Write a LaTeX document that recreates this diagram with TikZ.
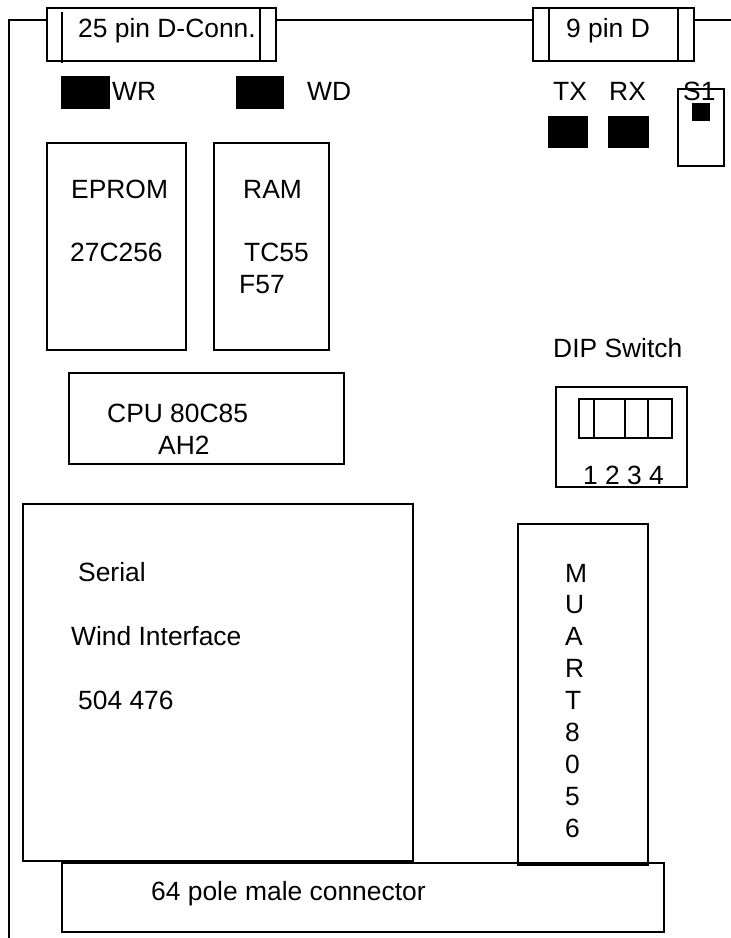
\documentclass[tikz,border=0pt]{standalone}
\usepackage{fontspec}
\setmainfont{Liberation Sans}
\usetikzlibrary{positioning}
\tikzset{
  boardline/.style={draw=black,line width=2.6pt},
  chipbox/.style={boardline,inner sep=0pt,outer sep=0pt,anchor=north west},
  ledblock/.style={fill=black,inner sep=0pt,outer sep=0pt,anchor=north west},
  boardtext/.style={inner sep=0pt,anchor=base west,font=\fontsize{26.4}{32}\selectfont},
}

\begin{document}
\begin{tikzpicture}[x=1pt,y=-1pt]
  \useasboundingbox (0,0) rectangle (731,938);

  % connectors along the top edge
  \node[chipbox,minimum width=229pt,minimum height=53pt] (conn25) at (47,8) {};
  \node[chipbox,minimum width=161pt,minimum height=53pt] (conn9) at (533,8) {};
  \coordinate (edgeL) at (9,938);
  \coordinate (edgeR) at (731,20);
  \draw[boardline] (conn25.west |- 0,20) -| (edgeL);
  \draw[boardline] (conn25.east |- 0,20) -- (conn9.west |- 0,20);
  \draw[boardline] (conn9.east |- 0,20) -- (edgeR);
  \draw[boardline] (62,12) -- (62,63);
  \draw[boardline] (260,8) -- (260,61);
  \draw[boardline] (549,8) -- (549,61);
  \draw[boardline] (678,8) -- (678,61);
  \node[boardtext] (conn25txt) at (78,37) {25 pin D-Conn.};
  \node[boardtext] (conn9txt) at (566,37) {9 pin D};

  % leds and jumper
  \node[ledblock,minimum width=49pt,minimum height=33pt] (ledWR) at (61,76) {};
  \node[ledblock,minimum width=48pt,minimum height=33pt] (ledWD) at (236,76) {};
  \node[ledblock,minimum width=40pt,minimum height=32pt] (ledTX) at (548,116) {};
  \node[ledblock,minimum width=41pt,minimum height=32pt] (ledRX) at (608,116) {};
  \node[boardtext] (txtWR) at (112,100) {WR};
  \node[boardtext] (txtWD) at (307,100) {WD};
  \node[boardtext] (txtTX) at (553,100) {TX};
  \node[boardtext] (txtRX) at (609,100) {RX};
  \node[boardtext] (txtS1) at (683,100) {S1};
  \node[chipbox,minimum width=46pt,minimum height=77pt] (jumperS1) at (678,89) {};
  \node[ledblock,minimum width=18pt,minimum height=18pt] (jumperPin) at (692,103) {};

  % chips
  \node[chipbox,minimum width=139pt,minimum height=207pt] (eprom) at (47,143) {};
  \node[chipbox,minimum width=115pt,minimum height=207pt] (ram) at (214,143) {};
  \node[chipbox,minimum width=275pt,minimum height=91pt] (cpu) at (69,373) {};
  \node[chipbox,minimum width=390pt,minimum height=357pt] (serial) at (23,504) {};
  \node[chipbox,minimum width=602pt,minimum height=69pt] (male64) at (62,863) {};
  \node[chipbox,minimum width=130pt,minimum height=341pt] (muart) at (518,524) {};

  \node[boardtext] (epromA) at (71,198) {EPROM};
  \node[boardtext] (epromB) at (70,261) {27C256};
  \node[boardtext] (ramA) at (243,198) {RAM};
  \node[boardtext] (ramB) at (244,261) {TC55};
  \node[boardtext] (ramC) at (239,293) {F57};
  \node[boardtext] (cpuA) at (107,422) {CPU 80C85};
  \node[boardtext] (cpuB) at (158,454) {AH2};
  \node[boardtext] (serialA) at (78,581) {Serial};
  \node[boardtext] (serialB) at (71,645) {Wind Interface};
  \node[boardtext] (serialC) at (78,709) {504 476};
  \node[boardtext] (maleTxt) at (151,900) {64 pole male connector};
  \foreach \letter [count=\i from 0] in {M,U,A,R,T,8,0,5,6}
    \node[boardtext] (muart\i) at (565,{582+\i*31.9}) {\letter};

  % dip switch
  \node[boardtext] (dipTxt) at (553,357) {DIP Switch};
  \node[chipbox,minimum width=131pt,minimum height=100pt] (dip) at (556,387) {};
  \node[chipbox,minimum width=93pt,minimum height=39pt] (dipBar) at (579,399) {};
  \foreach \xpos in {594,625,648}
    \draw[boardline] (\xpos,399) -- (\xpos,438);
  \node[boardtext] (dipNum) at (583,484) {1 2 3 4};
\end{tikzpicture}
\end{document}
